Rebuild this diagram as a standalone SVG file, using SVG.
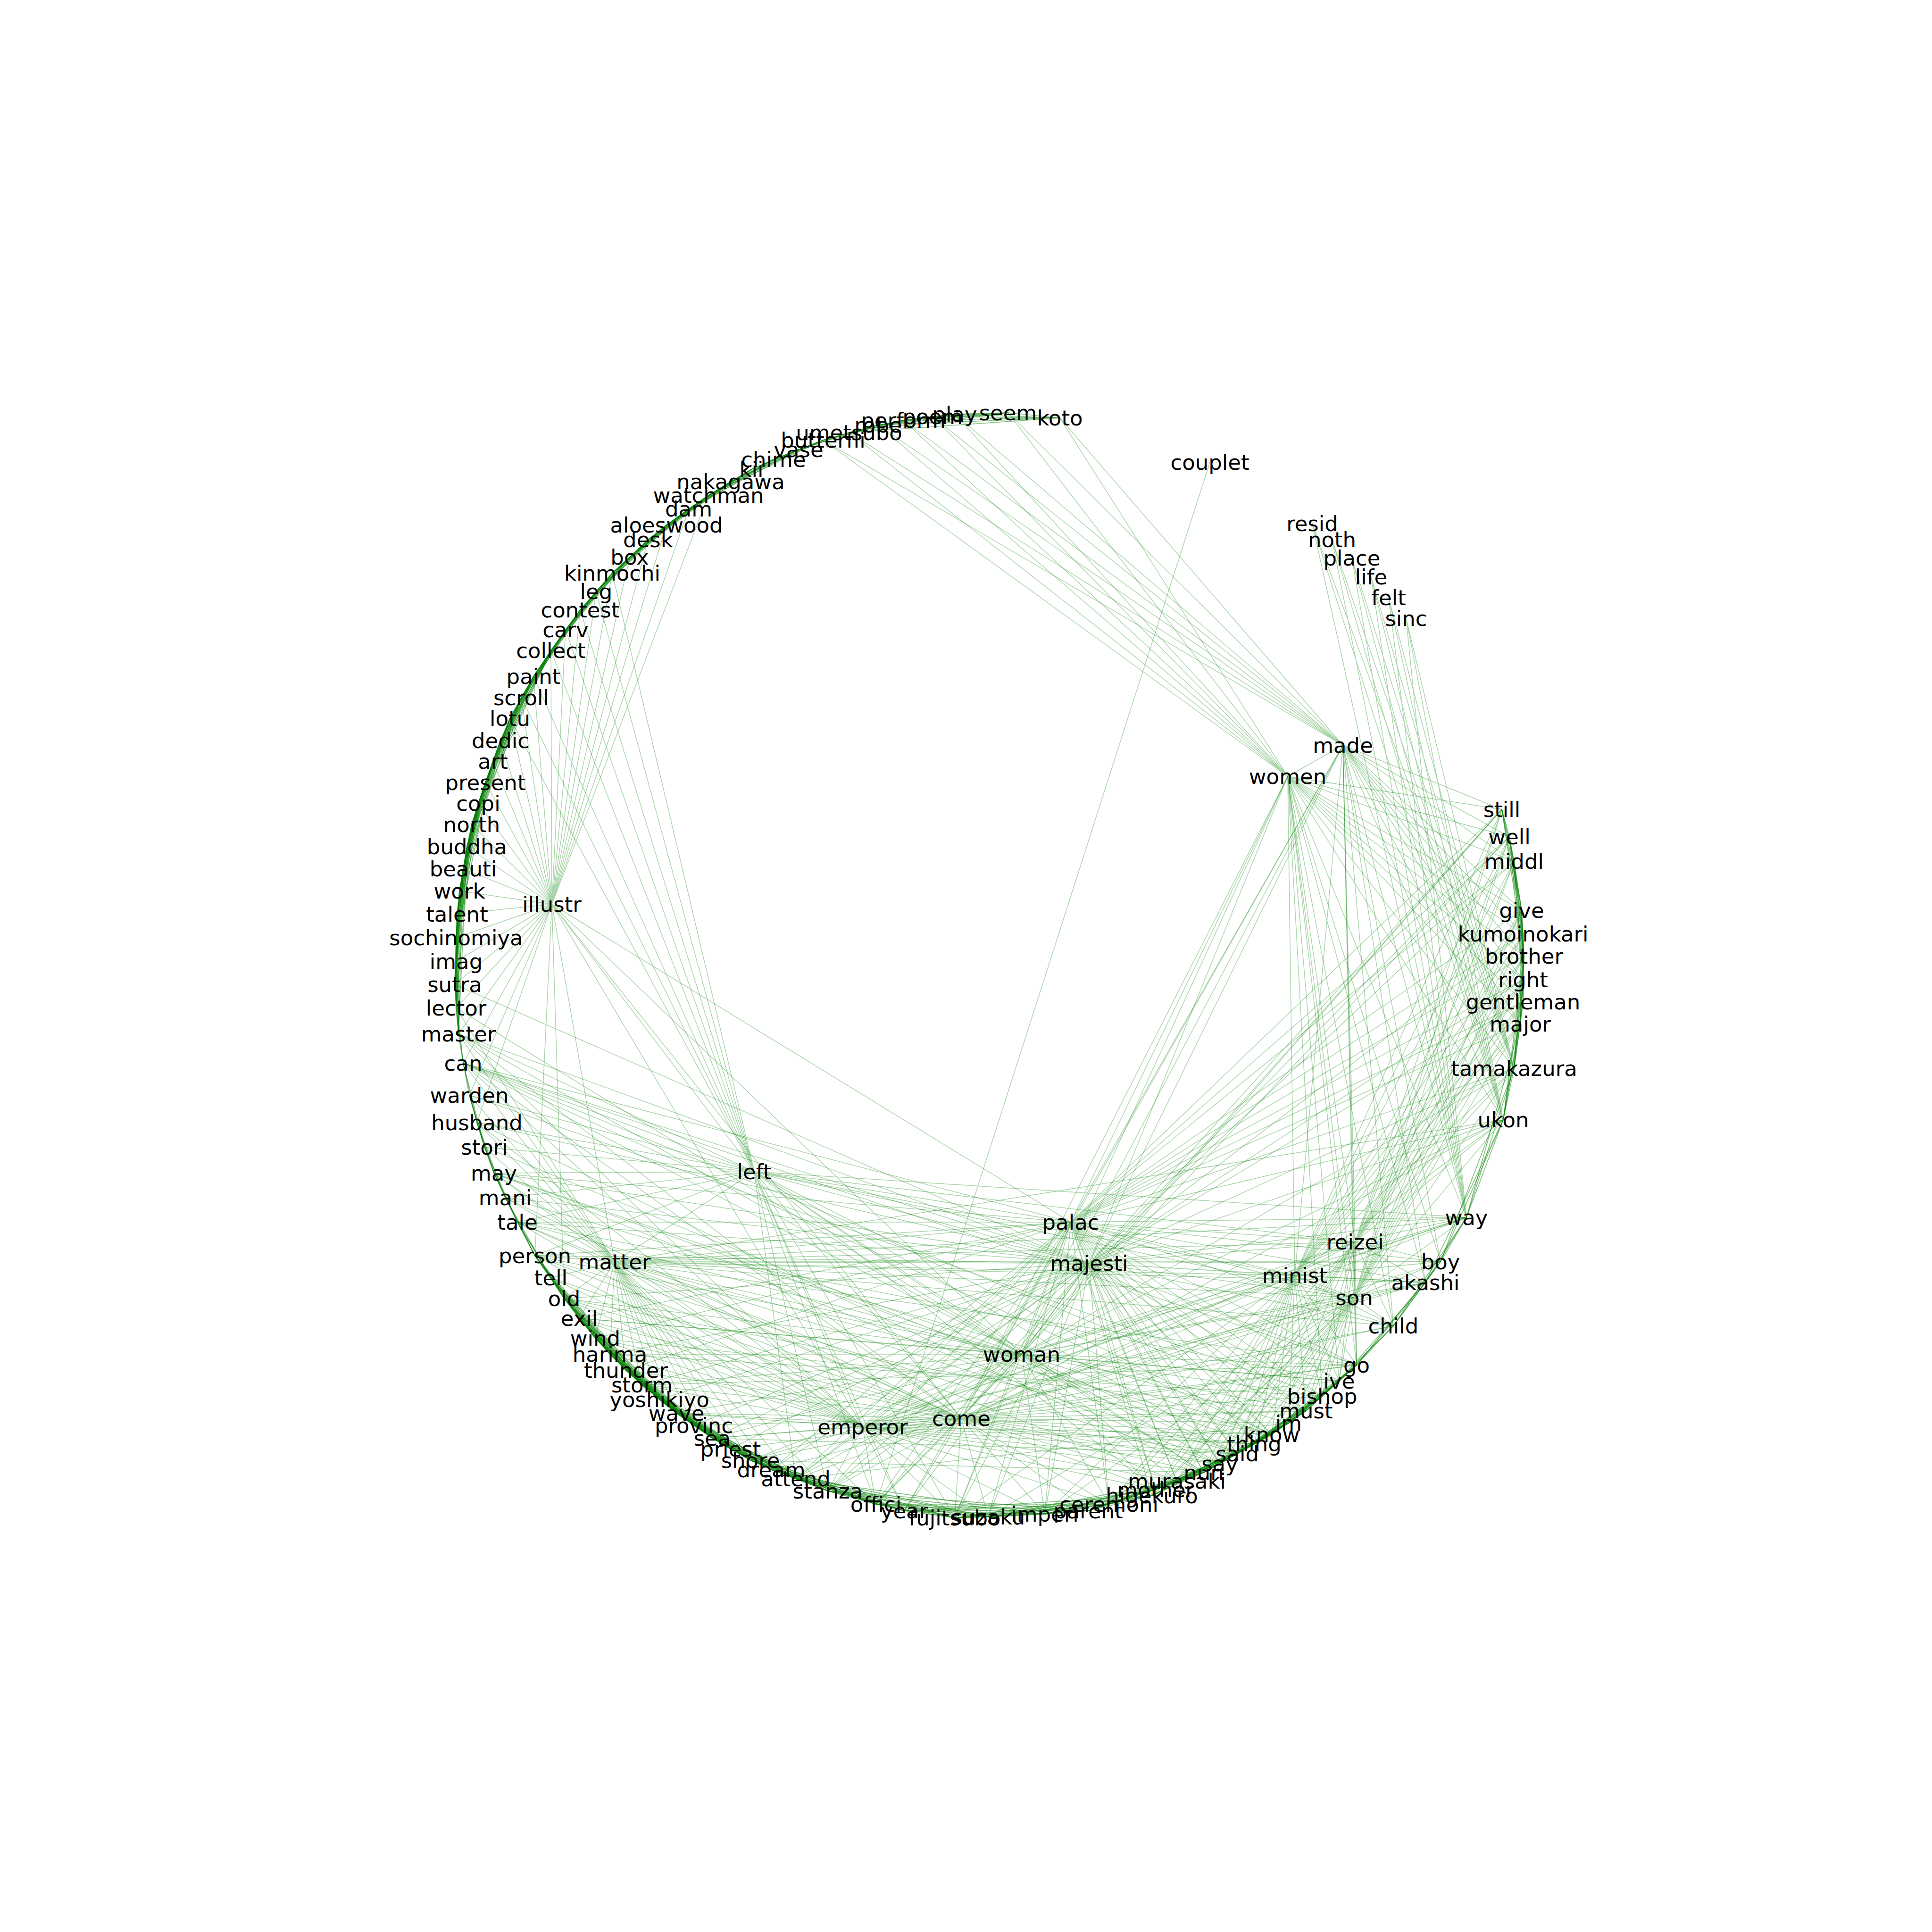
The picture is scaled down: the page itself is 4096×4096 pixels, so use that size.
<svg xmlns="http://www.w3.org/2000/svg" width="4096" height="4096" viewBox="0 0 4096 4096">
<style>
.e{fill:none;stroke:#008000;stroke-opacity:.34;stroke-width:1.5;stroke-linejoin:round}
.c{stroke-opacity:.5;stroke-width:1.7}
text{font-family:"DejaVu Sans",sans-serif;font-size:45px;fill:#000;text-anchor:middle;dominant-baseline:central}
</style>
<rect width="4096" height="4096" fill="#fff"/>
<g id="connectors">
<path class="e c" d="M2247 886L2137 875L2024 878L1977 883L1915 891L1862 901L1800 917L1745 933L1693 953L1640 974L1593 995L1549 1021L1502 1050L1460 1079L1413 1113L1374 1144L1335 1181L1298 1215L1264 1254L1230 1293L1199 1335L1168 1379L1131 1434L1105 1479L1081 1523L1061 1570L1045 1614L1029 1659L1014 1703L1000 1748L990 1795L982 1842L974 1889L969 1938L967 1988L967 2038L964 2087L967 2137L972 2192L982 2254"/>
<path class="e c" d="M2247 886L2024 878L1915 891L1800 917L1693 953L1593 995L1502 1050L1413 1113L1335 1181L1264 1254L1199 1335L1131 1434L1081 1523L1045 1614L1014 1703L990 1795L974 1889L967 1988L964 2087L972 2192"/>
<path class="e c" d="M2137 875L1977 883L1862 901L1745 933L1640 974L1549 1021L1460 1079L1374 1144L1298 1215L1230 1293L1168 1379L1105 1479L1061 1570L1029 1659L1000 1748L982 1842L969 1938L967 2038L967 2137L982 2254"/>
<path class="e c" d="M2247 886L1977 883L1800 917L1640 974L1502 1050L1374 1144L1264 1254L1168 1379L1081 1523L1029 1659L990 1795L969 1938L964 2087L982 2254"/>
<path class="e c" d="M2137 875L1915 891L1745 933L1593 995L1460 1079L1335 1181L1230 1293L1131 1434L1061 1570L1014 1703L982 1842L967 1988L967 2137"/>
<path class="e c" d="M2024 878L1862 901L1693 953L1549 1021L1413 1113L1298 1215L1199 1335L1105 1479L1045 1614L1000 1748L974 1889L967 2038L972 2192"/>
<path class="e c" d="M1745 933L1549 1021L1374 1144L1230 1293L1105 1479L1029 1659L982 1842L967 2038"/>
<path class="e c" d="M1693 953L1502 1050L1335 1181L1199 1335L1081 1523L1014 1703L974 1889L964 2087"/>
<path class="e c" d="M1640 974L1460 1079L1298 1215L1168 1379L1061 1570L1000 1748L969 1938L967 2137"/>
<path class="e c" d="M1593 995L1413 1113L1264 1254L1131 1434L1045 1614L990 1795L967 1988L972 2192"/>
<path class="e c" d="M1745 933L1502 1050L1298 1215L1131 1434L1029 1659L974 1889L967 2137"/>
<path class="e c" d="M1693 953L1460 1079L1264 1254L1105 1479L1014 1703L969 1938L972 2192"/>
<path class="e c" d="M1640 974L1413 1113L1230 1293L1081 1523L1000 1748L967 1988"/>
<path class="e c" d="M1593 995L1374 1144L1199 1335L1061 1570L990 1795L967 2038"/>
<path class="e c" d="M1549 1021L1335 1181L1168 1379L1045 1614L982 1842L964 2087"/>
<path class="e c" d="M1168 1379L1029 1659L969 1938M1131 1434L1014 1703L967 1988M1105 1479L1000 1748L967 2038M1081 1523L990 1795L964 2087M1061 1570L982 1842L967 2137M1045 1614L974 1889L972 2192"/>
<path class="e c" d="M1168 1379L1014 1703L967 2038M1131 1434L1000 1748L964 2087M1105 1479L990 1795L967 2137M1081 1523L982 1842L972 2192"/>
<path class="e c" d="M1168 1379L1000 1748L967 2137M1131 1434L990 1795L972 2192M1105 1479L982 1842M1081 1523L974 1889M1061 1570L969 1938M1045 1614L967 1988"/>
<path class="e c" d="M2247 886L1915 891M2137 875L1862 901M2024 878L1800 917M2247 886L1862 901M2137 875L1800 917M2247 886L1800 917"/>
<path class="e c" d="M982 2254L995 2322L1011 2380L1027 2432L1047 2487L1071 2539L1097 2591L1134 2662L1168 2709L1196 2753L1228 2795L1262 2837L1293 2871L1327 2905L1361 2936L1398 2967L1434 2996L1471 3022L1510 3049L1549 3072L1591 3096L1635 3116L1687 3135L1755 3161L1857 3189L1917 3203L2024 3218L2095 3216L2215 3210L2307 3203L2351 3189L2442 3171L2450 3158L2495 3140L2552 3122L2586 3103L2623 3082L2659 3061L2696 3041L2732 3017L2769 2991L2803 2960L2839 2928L2876 2894L2954 2811L3022 2719L3054 2675L3109 2581L3187 2374L3210 2265L3223 2171L3229 2124L3229 2077L3231 2027L3229 1980L3226 1930L3210 1826L3200 1774L3184 1716"/>
<path class="e c" d="M982 2254L1011 2380L1047 2487L1097 2591L1168 2709L1228 2795L1293 2871L1361 2936L1434 2996L1510 3049L1591 3096L1687 3135L1857 3189L2024 3218L2215 3210L2351 3189L2450 3158L2552 3122L2623 3082L2696 3041L2769 2991L2839 2928L2954 2811L3054 2675L3187 2374L3223 2171L3229 2077L3229 1980L3210 1826L3184 1716"/>
<path class="e c" d="M995 2322L1027 2432L1071 2539L1134 2662L1196 2753L1262 2837L1327 2905L1398 2967L1471 3022L1549 3072L1635 3116L1755 3161L1917 3203L2095 3216L2307 3203L2442 3171L2495 3140L2586 3103L2659 3061L2732 3017L2803 2960L2876 2894L3022 2719L3109 2581L3210 2265L3229 2124L3231 2027L3226 1930L3200 1774"/>
<path class="e c" d="M982 2254L1027 2432L1097 2591L1196 2753L1293 2871L1398 2967L1510 3049L1635 3116L1857 3189L2095 3216L2351 3189L2495 3140L2623 3082L2732 3017L2839 2928L3022 2719L3187 2374L3229 2124L3229 1980L3200 1774"/>
<path class="e c" d="M995 2322L1047 2487L1134 2662L1228 2795L1327 2905L1434 2996L1549 3072L1687 3135L1917 3203L2215 3210L2442 3171L2552 3122L2659 3061L2769 2991L2876 2894L3054 2675L3210 2265L3229 2077L3226 1930L3184 1716"/>
<path class="e c" d="M1011 2380L1071 2539L1168 2709L1262 2837L1361 2936L1471 3022L1591 3096L1755 3161L2024 3218L2307 3203L2450 3158L2586 3103L2696 3041L2803 2960L2954 2811L3109 2581L3223 2171L3231 2027L3210 1826"/>
<path class="e c" d="M1134 2662L1262 2837L1398 2967L1549 3072L1755 3161L2095 3216L2442 3171L2586 3103L2732 3017L2876 2894"/>
<path class="e c" d="M1168 2709L1293 2871L1434 2996L1591 3096L1857 3189L2215 3210L2450 3158L2623 3082L2769 2991"/>
<path class="e c" d="M1196 2753L1327 2905L1471 3022L1635 3116L1917 3203L2307 3203L2495 3140L2659 3061L2803 2960"/>
<path class="e c" d="M1228 2795L1361 2936L1510 3049L1687 3135L2024 3218L2351 3189L2552 3122L2696 3041L2839 2928"/>
<path class="e c" d="M1134 2662L1293 2871L1471 3022L1687 3135L2095 3216L2450 3158L2659 3061L2839 2928"/>
<path class="e c" d="M1168 2709L1327 2905L1510 3049L1755 3161L2215 3210L2495 3140L2696 3041L2876 2894"/>
<path class="e c" d="M1196 2753L1361 2936L1549 3072L1857 3189L2307 3203L2552 3122L2732 3017"/>
<path class="e c" d="M1228 2795L1398 2967L1591 3096L1917 3203L2351 3189L2586 3103L2769 2991"/>
<path class="e c" d="M1262 2837L1434 2996L1635 3116L2024 3218L2442 3171L2623 3082L2803 2960"/>
<path class="e c" d="M1134 2662L1327 2905L1549 3072L1917 3203L2442 3171L2659 3061L2876 2894"/>
<path class="e c" d="M1168 2709L1361 2936L1591 3096L2024 3218L2450 3158L2696 3041"/>
<path class="e c" d="M1196 2753L1398 2967L1635 3116L2095 3216L2495 3140L2732 3017"/>
<path class="e c" d="M1228 2795L1434 2996L1687 3135L2215 3210L2552 3122L2769 2991"/>
<path class="e c" d="M1262 2837L1471 3022L1755 3161L2307 3203L2586 3103L2803 2960"/>
<path class="e c" d="M1293 2871L1510 3049L1857 3189L2351 3189L2623 3082L2839 2928"/>
<path class="e c" d="M1134 2662L1361 2936L1635 3116M1168 2709L1398 2967L1687 3135M1196 2753L1434 2996L1755 3161M1228 2795L1471 3022M1262 2837L1510 3049M1293 2871L1549 3072M1327 2905L1591 3096"/>
<path class="e c" d="M1134 2662L1398 2967L1687 3135M1168 2709L1434 2996L1755 3161M1196 2753L1471 3022M1228 2795L1510 3049M1262 2837L1549 3072M1293 2871L1591 3096M1327 2905L1635 3116"/>
<path class="e c" d="M3187 2374L3229 2077L3210 1826M3210 2265L3231 2027L3200 1774M3223 2171L3229 1980L3184 1716M3229 2124L3226 1930"/>
<path class="e c" d="M3187 2374L3231 2027L3184 1716M3210 2265L3229 1980M3223 2171L3226 1930M3229 2124L3210 1826M3229 2077L3200 1774"/>
<path class="e" d="M1131 1434L1170 1917L1105 1479M1081 1523L1170 1917L1061 1570M1045 1614L1170 1917L1029 1659M1014 1703L1170 1917L1000 1748M990 1795L1170 1917L982 1842M974 1889L1170 1917L969 1938M967 1988L1170 1917L967 2038M964 2087L1170 1917L967 2137M972 2192L1170 1917L982 2254M1168 1379L1170 1917L1199 1335M1230 1293L1170 1917L1264 1254M1298 1215L1170 1917L1335 1181M1374 1144L1170 1917L1413 1113M1460 1079L1170 1917L1502 1050M1599 2484L1170 1917L1303 2675M2166 2871L1170 1917L1829 3025M2038 3007L1170 1917L2270 2591M995 2322L1170 1917L1011 2380M1134 2662L1170 1917L1196 2753"/>
<path class="e" d="M1168 1379L1599 2484L1199 1335M1230 1293L1599 2484L1264 1254M1298 1215L1599 2484L1105 1479M1131 1434L1599 2484L1081 1523M982 2254L1599 2484L995 2322M1011 2380L1599 2484L1027 2432M1047 2487L1599 2484L1071 2539M1097 2591L1599 2484L972 2192M1134 2662L1599 2484L1303 2675M2270 2591L1599 2484L2309 2678M2745 2704L1599 2484L2873 2633M3109 2581L1599 2484L2871 2751M2166 2871L1599 2484L2038 3007M1829 3025L1599 2484L1857 3189M1755 3161L1599 2484L1687 3135M1917 3203L1599 2484L2024 3218M2623 3082L1599 2484L2696 3041M2552 3122L1599 2484L2450 3158"/>
<path class="e" d="M1097 2591L1303 2675L1071 2539M1047 2487L1303 2675L1027 2432M1011 2380L1303 2675L995 2322M982 2254L1303 2675L972 2192M967 2137L1303 2675L1134 2662M1168 2709L1303 2675L1196 2753M1228 2795L1303 2675L1262 2837M1293 2871L1303 2675L1327 2905M1361 2936L1303 2675L1398 2967M1434 2996L1303 2675L1471 3022M1510 3049L1303 2675L1549 3072M1591 3096L1303 2675L1635 3116M1687 3135L1303 2675L1755 3161M2270 2591L1303 2675L2309 2678M2745 2704L1303 2675L2873 2633M2871 2751L1303 2675L3109 2581M3187 2374L1303 2675L3022 2719M3054 2675L1303 2675L2954 2811M2876 2894L1303 2675L2166 2871M2038 3007L1303 2675L1829 3025M2696 3041L1303 2675L2623 3082M2495 3140L1303 2675L1857 3189"/>
<path class="e" d="M1134 2662L1829 3025L1168 2709M1196 2753L1829 3025L1228 2795M1262 2837L1829 3025L1293 2871M1361 2936L1829 3025L1434 2996M1510 3049L1829 3025L1591 3096M1687 3135L1829 3025L1755 3161M1857 3189L1829 3025L1917 3203M2024 3218L1829 3025L2095 3216M2215 3210L1829 3025L2351 3189M2450 3158L1829 3025L2495 3140M2552 3122L1829 3025L2586 3103M2623 3082L1829 3025L2659 3061M2696 3041L1829 3025L2769 2991M2876 2894L1829 3025L2038 3007M2166 2871L1829 3025L2309 2678M2270 2591L1829 3025L2745 2704M2871 2751L1829 3025L2873 2633M1097 2591L1829 3025L1047 2487M1011 2380L1829 3025L972 2192M982 2254L1829 3025L3022 2719M2954 2811L1829 3025L3109 2581"/>
<path class="e" d="M2552 3122L2038 3007L2586 3103M2623 3082L2038 3007L2659 3061M2696 3041L2038 3007L2732 3017M2769 2991L2038 3007L2803 2960M2839 2928L2038 3007L2876 2894M2954 2811L2038 3007L3022 2719M3054 2675L2038 3007L3109 2581M3187 2374L2038 3007L2871 2751M2745 2704L2038 3007L2873 2633M2309 2678L2038 3007L2270 2591M2166 2871L2038 3007L1857 3189M1917 3203L2038 3007L2024 3218M2095 3216L2038 3007L2215 3210M2307 3203L2038 3007L2351 3189M2450 3158L2038 3007L2495 3140M1755 3161L2038 3007L1687 3135M1635 3116L2038 3007L1591 3096M1549 3072L2038 3007L1510 3049M1471 3022L2038 3007L1434 2996M1361 2936L2038 3007L1327 2905M1262 2837L2038 3007L1228 2795M1196 2753L2038 3007L1168 2709M1134 2662L2038 3007L1097 2591M1071 2539L2038 3007L982 2254M972 2192L2038 3007L2847 1580M2730 1646L2038 3007L3184 1716"/>
<path class="e" d="M2847 1580L2166 2871L2730 1646M2270 2591L2166 2871L2309 2678M2745 2704L2166 2871L2871 2751M2873 2633L2166 2871L3109 2581M3187 2374L2166 2871L3210 2265M3184 1716L2166 2871L3200 1774M2876 2894L2166 2871L2839 2928M2803 2960L2166 2871L2769 2991M2696 3041L2166 2871L2623 3082M2586 3103L2166 2871L2552 3122M2495 3140L2166 2871L2450 3158M2351 3189L2166 2871L2215 3210M2024 3218L2166 2871L1857 3189M1755 3161L2166 2871L1687 3135M1591 3096L2166 2871L1510 3049M1434 2996L2166 2871L1361 2936M1293 2871L2166 2871L1228 2795M1196 2753L2166 2871L1134 2662M1097 2591L2166 2871L1047 2487M982 2254L2166 2871L972 2192M967 2137L2166 2871L3022 2719"/>
<path class="e" d="M2847 1580L2270 2591L2730 1646M3184 1716L2270 2591L3200 1774M3210 1826L2270 2591L3226 1930M3229 1980L2270 2591L3231 2027M3229 2077L2270 2591L3229 2124M3223 2171L2270 2591L3210 2265M3187 2374L2270 2591L3109 2581M3054 2675L2270 2591L3022 2719M2954 2811L2270 2591L2873 2633M2745 2704L2270 2591L2871 2751M2309 2678L2270 2591L2876 2894M2839 2928L2270 2591L2803 2960M2769 2991L2270 2591L2732 3017M2696 3041L2270 2591L2659 3061M2623 3082L2270 2591L2586 3103M2552 3122L2270 2591L2495 3140M2450 3158L2270 2591L2442 3171M2351 3189L2270 2591L2215 3210M2095 3216L2270 2591L2024 3218M1917 3203L2270 2591L1857 3189M1755 3161L2270 2591L1687 3135M1635 3116L2270 2591L1097 2591M1047 2487L2270 2591L982 2254M1134 2662L2270 2591L1228 2795M1262 2837L2270 2591L1327 2905"/>
<path class="e" d="M2847 1580L2309 2678L2730 1646M3184 1716L2309 2678L3200 1774M3210 1826L2309 2678L3229 1980M3229 2077L2309 2678L3229 2124M3210 2265L2309 2678L3187 2374M3109 2581L2309 2678L3054 2675M3022 2719L2309 2678L2954 2811M2873 2633L2309 2678L2745 2704M2871 2751L2309 2678L2876 2894M2803 2960L2309 2678L2769 2991M2696 3041L2309 2678L2623 3082M2586 3103L2309 2678L2552 3122M2495 3140L2309 2678L2450 3158M2351 3189L2309 2678L2215 3210M2095 3216L2309 2678L2024 3218M1917 3203L2309 2678L1857 3189M1755 3161L2309 2678L1687 3135M1635 3116L2309 2678L1549 3072M1510 3049L2309 2678L1471 3022M1398 2967L2309 2678L1361 2936M1293 2871L2309 2678L1196 2753M1134 2662L2309 2678L1097 2591M1071 2539L2309 2678L1047 2487M1011 2380L2309 2678L982 2254M972 2192L2309 2678L964 2087"/>
<path class="e" d="M3184 1716L2745 2704L3200 1774M3210 1826L2745 2704L3226 1930M3229 1980L2745 2704L3231 2027M3229 2077L2745 2704L3229 2124M3223 2171L2745 2704L3210 2265M3187 2374L2745 2704L3109 2581M3054 2675L2745 2704L3022 2719M2954 2811L2745 2704L2873 2633M2871 2751L2745 2704L2876 2894M2839 2928L2745 2704L2803 2960M2769 2991L2745 2704L2732 3017M2696 3041L2745 2704L2659 3061M2623 3082L2745 2704L2586 3103M2552 3122L2745 2704L2495 3140M2450 3158L2745 2704L2351 3189M2215 3210L2745 2704L2024 3218M2847 1580L2745 2704L2730 1646"/>
<path class="e" d="M3184 1716L2871 2751L3200 1774M3210 1826L2871 2751L3226 1930M3229 1980L2871 2751L3231 2027M3229 2077L2871 2751L3229 2124M3223 2171L2871 2751L3210 2265M3187 2374L2871 2751L3109 2581M3054 2675L2871 2751L3022 2719M2954 2811L2871 2751L2873 2633M2847 1580L2871 2751L2730 1646M2876 2894L2871 2751L2839 2928M2803 2960L2871 2751L2769 2991M2732 3017L2871 2751L2696 3041M2659 3061L2871 2751L2623 3082M2586 3103L2871 2751L2552 3122M2495 3140L2871 2751L2450 3158M2442 3171L2871 2751L2351 3189M2215 3210L2871 2751L2095 3216"/>
<path class="e" d="M3184 1716L2873 2633L3200 1774M3210 1826L2873 2633L3226 1930M3229 1980L2873 2633L3231 2027M3229 2077L2873 2633L3229 2124M3223 2171L2873 2633L3210 2265M3187 2374L2873 2633L3109 2581M3054 2675L2873 2633L3022 2719M2954 2811L2873 2633L2847 1580M2730 1646L2873 2633L2876 2894M2839 2928L2873 2633L2803 2960M2769 2991L2873 2633L2696 3041M2623 3082L2873 2633L2552 3122M2495 3140L2873 2633L2450 3158M2351 3189L2873 2633L2586 3103"/>
<path class="e" d="M2247 886L2847 1580L2137 875M2024 878L2847 1580L1977 883M1915 891L2847 1580L1862 901M1800 917L2847 1580L1745 933M3184 1716L2847 1580L3200 1774M3210 1826L2847 1580L3226 1930M3229 1980L2847 1580L3231 2027M3229 2077L2847 1580L3229 2124M3223 2171L2847 1580L3210 2265M3187 2374L2847 1580L3109 2581M3054 2675L2847 1580L3022 2719M2954 2811L2847 1580L2876 2894M2730 1646L2847 1580"/>
<path class="e" d="M2247 886L2730 1646L2137 875M2024 878L2730 1646L1977 883M1915 891L2730 1646L1862 901M1800 917L2730 1646L1745 933M3184 1716L2730 1646L3200 1774M3210 1826L2730 1646L3226 1930M3229 1980L2730 1646L3231 2027M3229 2077L2730 1646L3229 2124M3223 2171L2730 1646L3210 2265M3187 2374L2730 1646L3109 2581M3054 2675L2730 1646L3022 2719M2954 2811L2730 1646L2876 2894M2839 2928L2730 1646L2803 2960"/>
<path class="e" d="M3187 2374L2782 1110L3210 2265M3109 2581L2782 1110M3187 2374L2824 1144L3210 2265M3109 2581L2824 1144M3187 2374L2866 1183L3210 2265M3109 2581L2866 1183M3187 2374L2907 1223L3210 2265M3109 2581L2907 1223M3187 2374L2944 1267L3210 2265M3109 2581L2944 1267M3187 2374L2981 1311L3210 2265M3109 2581L2981 1311"/>
<path class="e" d="M2565 980L1857 3189"/>
<path class="e" d="M982 2254L2696 3041M982 2254L2769 2991M982 2254L2876 2894M1047 2487L2586 3103M1047 2487L2659 3061M1071 2539L2732 3017M1027 2432L2623 3082M1011 2380L2552 3122M995 2322L2803 2960M1097 2591L2839 2928M1134 2662L2586 3103M1196 2753L2696 3041M1262 2837L2769 2991M1361 2936L2876 2894M1434 2996L2659 3061M1510 3049L2623 3082M1591 3096L2552 3122M1687 3135L2732 3017M1293 2871L2803 2960M1228 2795L2839 2928"/>
</g>
<g id="nodes">
<g id="n-koto"><text x="2247" y="886">koto</text></g>
<g id="n-seem"><text x="2137" y="875">seem</text></g>
<g id="n-play"><text x="2024" y="878">play</text></g>
<g id="n-poem"><text x="1977" y="883">poem</text></g>
<g id="n-perform"><text x="1915" y="891">perform</text></g>
<g id="n-robe"><text x="1862" y="901">robe</text></g>
<g id="n-umetsubo"><text x="1800" y="917">umetsubo</text></g>
<g id="n-butterfli"><text x="1745" y="933">butterfli</text></g>
<g id="n-vase"><text x="1693" y="953">vase</text></g>
<g id="n-chime"><text x="1640" y="974">chime</text></g>
<g id="n-kii"><text x="1593" y="995">kii</text></g>
<g id="n-nakagawa"><text x="1549" y="1021">nakagawa</text></g>
<g id="n-watchman"><text x="1502" y="1050">watchman</text></g>
<g id="n-dam"><text x="1460" y="1079">dam</text></g>
<g id="n-aloeswood"><text x="1413" y="1113">aloeswood</text></g>
<g id="n-desk"><text x="1374" y="1144">desk</text></g>
<g id="n-box"><text x="1335" y="1181">box</text></g>
<g id="n-kinmochi"><text x="1298" y="1215">kinmochi</text></g>
<g id="n-leg"><text x="1264" y="1254">leg</text></g>
<g id="n-contest"><text x="1230" y="1293">contest</text></g>
<g id="n-carv"><text x="1199" y="1335">carv</text></g>
<g id="n-collect"><text x="1168" y="1379">collect</text></g>
<g id="n-paint"><text x="1131" y="1434">paint</text></g>
<g id="n-scroll"><text x="1105" y="1479">scroll</text></g>
<g id="n-lotu"><text x="1081" y="1523">lotu</text></g>
<g id="n-dedic"><text x="1061" y="1570">dedic</text></g>
<g id="n-art"><text x="1045" y="1614">art</text></g>
<g id="n-present"><text x="1029" y="1659">present</text></g>
<g id="n-copi"><text x="1014" y="1703">copi</text></g>
<g id="n-north"><text x="1000" y="1748">north</text></g>
<g id="n-buddha"><text x="990" y="1795">buddha</text></g>
<g id="n-beauti"><text x="982" y="1842">beauti</text></g>
<g id="n-work"><text x="974" y="1889">work</text></g>
<g id="n-talent"><text x="969" y="1938">talent</text></g>
<g id="n-sochinomiya"><text x="967" y="1988">sochinomiya</text></g>
<g id="n-imag"><text x="967" y="2038">imag</text></g>
<g id="n-sutra"><text x="964" y="2087">sutra</text></g>
<g id="n-lector"><text x="967" y="2137">lector</text></g>
<g id="n-master"><text x="972" y="2192">master</text></g>
<g id="n-can"><text x="982" y="2254">can</text></g>
<g id="n-warden"><text x="995" y="2322">warden</text></g>
<g id="n-husband"><text x="1011" y="2380">husband</text></g>
<g id="n-stori"><text x="1027" y="2432">stori</text></g>
<g id="n-may"><text x="1047" y="2487">may</text></g>
<g id="n-mani"><text x="1071" y="2539">mani</text></g>
<g id="n-tale"><text x="1097" y="2591">tale</text></g>
<g id="n-person"><text x="1134" y="2662">person</text></g>
<g id="n-tell"><text x="1168" y="2709">tell</text></g>
<g id="n-old"><text x="1196" y="2753">old</text></g>
<g id="n-exil"><text x="1228" y="2795">exil</text></g>
<g id="n-wind"><text x="1262" y="2837">wind</text></g>
<g id="n-harima"><text x="1293" y="2871">harima</text></g>
<g id="n-thunder"><text x="1327" y="2905">thunder</text></g>
<g id="n-storm"><text x="1361" y="2936">storm</text></g>
<g id="n-yoshikiyo"><text x="1398" y="2967">yoshikiyo</text></g>
<g id="n-wave"><text x="1434" y="2996">wave</text></g>
<g id="n-provinc"><text x="1471" y="3022">provinc</text></g>
<g id="n-sea"><text x="1510" y="3049">sea</text></g>
<g id="n-priest"><text x="1549" y="3072">priest</text></g>
<g id="n-shore"><text x="1591" y="3096">shore</text></g>
<g id="n-dream"><text x="1635" y="3116">dream</text></g>
<g id="n-attend"><text x="1687" y="3135">attend</text></g>
<g id="n-stanza"><text x="1755" y="3161">stanza</text></g>
<g id="n-offici"><text x="1857" y="3189">offici</text></g>
<g id="n-year"><text x="1917" y="3203">year</text></g>
<g id="n-fujitsubo"><text x="2024" y="3218">fujitsubo</text></g>
<g id="n-suzaku"><text x="2095" y="3216">suzaku</text></g>
<g id="n-imperi"><text x="2215" y="3210">imperi</text></g>
<g id="n-parent"><text x="2307" y="3203">parent</text></g>
<g id="n-ceremoni"><text x="2351" y="3189">ceremoni</text></g>
<g id="n-higekuro"><text x="2442" y="3171">higekuro</text></g>
<g id="n-mother"><text x="2450" y="3158">mother</text></g>
<g id="n-murasaki"><text x="2495" y="3140">murasaki</text></g>
<g id="n-nun"><text x="2552" y="3122">nun</text></g>
<g id="n-say"><text x="2586" y="3103">say</text></g>
<g id="n-said"><text x="2623" y="3082">said</text></g>
<g id="n-thing"><text x="2659" y="3061">thing</text></g>
<g id="n-know"><text x="2696" y="3041">know</text></g>
<g id="n-im"><text x="2732" y="3017">im</text></g>
<g id="n-must"><text x="2769" y="2991">must</text></g>
<g id="n-bishop"><text x="2803" y="2960">bishop</text></g>
<g id="n-ive"><text x="2839" y="2928">ive</text></g>
<g id="n-go"><text x="2876" y="2894">go</text></g>
<g id="n-child"><text x="2954" y="2811">child</text></g>
<g id="n-akashi"><text x="3022" y="2719">akashi</text></g>
<g id="n-boy"><text x="3054" y="2675">boy</text></g>
<g id="n-way"><text x="3109" y="2581">way</text></g>
<g id="n-ukon"><text x="3187" y="2374">ukon</text></g>
<g id="n-tamakazura"><text x="3210" y="2265">tamakazura</text></g>
<g id="n-major"><text x="3223" y="2171">major</text></g>
<g id="n-gentleman"><text x="3229" y="2124">gentleman</text></g>
<g id="n-right"><text x="3229" y="2077">right</text></g>
<g id="n-brother"><text x="3231" y="2027">brother</text></g>
<g id="n-kumoinokari"><text x="3229" y="1980">kumoinokari</text></g>
<g id="n-give"><text x="3226" y="1930">give</text></g>
<g id="n-middl"><text x="3210" y="1826">middl</text></g>
<g id="n-well"><text x="3200" y="1774">well</text></g>
<g id="n-still"><text x="3184" y="1716">still</text></g>
<g id="n-sinc"><text x="2981" y="1311">sinc</text></g>
<g id="n-felt"><text x="2944" y="1267">felt</text></g>
<g id="n-life"><text x="2907" y="1223">life</text></g>
<g id="n-place"><text x="2866" y="1183">place</text></g>
<g id="n-noth"><text x="2824" y="1144">noth</text></g>
<g id="n-resid"><text x="2782" y="1110">resid</text></g>
<g id="n-couplet"><text x="2565" y="980">couplet</text></g>
<g id="n-made"><text x="2847" y="1580">made</text></g>
<g id="n-women"><text x="2730" y="1646">women</text></g>
<g id="n-illustr"><text x="1170" y="1917">illustr</text></g>
<g id="n-left"><text x="1599" y="2484">left</text></g>
<g id="n-palac"><text x="2270" y="2591">palac</text></g>
<g id="n-majesti"><text x="2309" y="2678">majesti</text></g>
<g id="n-reizei"><text x="2873" y="2633">reizei</text></g>
<g id="n-minist"><text x="2745" y="2704">minist</text></g>
<g id="n-son"><text x="2871" y="2751">son</text></g>
<g id="n-matter"><text x="1303" y="2675">matter</text></g>
<g id="n-woman"><text x="2166" y="2871">woman</text></g>
<g id="n-come"><text x="2038" y="3007">come</text></g>
<g id="n-emperor"><text x="1829" y="3025">emperor</text></g>
</g>
</svg>
